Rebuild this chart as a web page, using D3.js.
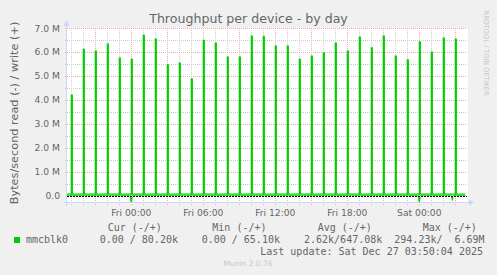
<!DOCTYPE html>
<html>
<head>
<meta charset="utf-8">
<script src="https://cdn.jsdelivr.net/npm/d3@7"></script>
<style>
  body { margin: 0; background: #f0f0f0; }
  text { font-family: "DejaVu Sans", sans-serif; fill: #666666; }
  .mono { font-family: "DejaVu Sans Mono", monospace; font-size: 10px; white-space: pre; }
</style>
</head>
<body>
<svg id="chart"></svg>
<script>
// write peaks (bytes/s), one per hour, first one on Thu 19:00
let firstPeak = "2025-12-25 19:00";
let writePeaks = [
  4.20e6, 6.11e6, 6.04e6, 6.33e6, 5.75e6, 5.69e6, 6.69e6, 6.54e6, 5.46e6, 5.54e6, 4.88e6,
  6.49e6, 6.37e6, 5.79e6, 5.79e6, 6.66e6, 6.65e6, 6.25e6, 6.25e6, 5.69e6, 5.83e6, 5.96e6,
  6.37e6, 6.04e6, 6.62e6, 6.17e6, 6.66e6, 5.83e6, 5.67e6, 6.42e6, 6.00e6, 6.58e6, 6.54e6
];
let writeIdle = 75e3;

// read (drawn negative)
let readTimes = ["2025-12-26 00:00", "2025-12-27 00:00", "2025-12-27 02:45"];
let readValues = [-294230, -260000, -150000];

let periodStart = "2025-12-25 18:38:30";
let periodEnd = "2025-12-27 03:58:30";
let lastUpdate = "2025-12-27 03:50";

let yTicks = [0, 1e6, 2e6, 3e6, 4e6, 5e6, 6e6, 7e6];
let yTickLabels = ["0.0", "1.0 M", "2.0 M", "3.0 M", "4.0 M", "5.0 M", "6.0 M", "7.0 M"];
let yMinorTicks = [0.5e6, 1.5e6, 2.5e6, 3.5e6, 4.5e6, 5.5e6, 6.5e6];

let xTicks = ["2025-12-26 00:00", "2025-12-26 06:00", "2025-12-26 12:00", "2025-12-26 18:00", "2025-12-27 00:00"];
let xTickLabels = ["Fri 00:00", "Fri 06:00", "Fri 12:00", "Fri 18:00", "Sat 00:00"];

let legendName = "mmcblk0";
let legendHeads = ["Cur (-/+)", "Min (-/+)", "Avg (-/+)", "Max (-/+)"];
let legendValues = ["0.00 / 80.20k", "0.00 / 65.10k", "2.62k/647.08k", "294.23k/  6.69M"];

let svgWidth = 497;
let svgHeight = 275;

let plot = { left: 67, top: 28, width: 400, height: 175 };

let green = "#00cc00";
let axisColor = "#cfd6f8";

let parse = d3.timeParse("%Y-%m-%d %H:%M");
let parseS = d3.timeParse("%Y-%m-%d %H:%M:%S");

let x = d3.scaleTime()
  .domain([parseS(periodStart), parseS(periodEnd)])
  .range([plot.left, plot.left + plot.width]);

let y = d3.scaleLinear()
  .domain([-294230, 7e6])
  .range([plot.top + plot.height, plot.top]);

let svg = d3.select("#chart")
  .attr("width", svgWidth)
  .attr("height", svgHeight);

svg.append("rect")
  .attr("width", svgWidth)
  .attr("height", svgHeight)
  .attr("fill", "#f0f0f0");

svg.append("rect")
  .attr("x", plot.left)
  .attr("y", plot.top)
  .attr("width", plot.width + 1)
  .attr("height", plot.height)
  .attr("fill", "#ffffff");

// grid
let grid = svg.append("g").attr("shape-rendering", "crispEdges");
let crisp = v => Math.round(v) + 0.5;

let hours = d3.timeHour.range(x.domain()[0], x.domain()[1]);
grid.selectAll("line.vgrid")
  .data(hours)
  .enter()
  .append("line")
    .attr("x1", d => crisp(x(d)))
    .attr("x2", d => crisp(x(d)))
    .attr("y1", plot.top)
    .attr("y2", plot.top + plot.height + 3)
    .attr("stroke", d => d.getHours() % 3 === 0 ? "#f0a8a8" : "#cccccc")
    .attr("stroke-dasharray", "1,1");

grid.selectAll("line.hminor")
  .data(yMinorTicks)
  .enter()
  .append("line")
    .attr("x1", plot.left - 2)
    .attr("x2", plot.left + plot.width)
    .attr("y1", d => crisp(y(d)))
    .attr("y2", d => crisp(y(d)))
    .attr("stroke", "#cccccc")
    .attr("stroke-dasharray", "1,1");

grid.selectAll("line.hmajor")
  .data(yTicks.filter(d => d !== 0))
  .enter()
  .append("line")
    .attr("x1", plot.left - 2)
    .attr("x2", plot.left + plot.width)
    .attr("y1", d => crisp(y(d)))
    .attr("y2", d => crisp(y(d)))
    .attr("stroke", "#f0a8a8")
    .attr("stroke-dasharray", "1,1");

// write series: idle line with a short burst every hour
let fiveMin = 5 * 60 * 1000;
let writePoints = [[x.domain()[0], writeIdle]];
writePeaks.forEach((p, i) => {
  let t = d3.timeHour.offset(parse(firstPeak), i);
  let t2 = new Date(+t + fiveMin);
  writePoints.push([t, writeIdle], [t, p], [t2, p], [t2, writeIdle]);
});
writePoints.push([parse(lastUpdate), writeIdle]);

// read series
let readPoints = [[x.domain()[0], 0]];
readTimes.forEach((s, i) => {
  let t = parse(s);
  readPoints.push([new Date(+t - fiveMin), 0], [t, readValues[i]], [new Date(+t + fiveMin), 0]);
});
readPoints.push([parse(lastUpdate), 0]);

let line = d3.line()
  .x(d => x(d[0]))
  .y(d => y(d[1]));

svg.append("path")
  .datum(readPoints)
  .attr("d", line)
  .attr("fill", "none")
  .attr("stroke", green)
  .attr("stroke-width", 1.2);

svg.append("path")
  .datum(writePoints)
  .attr("d", line)
  .attr("fill", "none")
  .attr("stroke", green)
  .attr("stroke-width", 1.2);

// zero line
svg.append("line")
  .attr("x1", plot.left)
  .attr("x2", plot.left + plot.width)
  .attr("y1", crisp(y(0)))
  .attr("y2", crisp(y(0)))
  .attr("stroke", "#ffffff")
  .attr("shape-rendering", "crispEdges");

svg.append("line")
  .attr("x1", plot.left)
  .attr("x2", plot.left + plot.width)
  .attr("y1", crisp(y(0)))
  .attr("y2", crisp(y(0)))
  .attr("stroke", "#000000")
  .attr("stroke-dasharray", "2,1")
  .attr("shape-rendering", "crispEdges");

// axes with arrows
let axisY = plot.top + plot.height - 0.5;
svg.append("line")
  .attr("x1", plot.left - 3).attr("x2", plot.left + plot.width + 4)
  .attr("y1", axisY).attr("y2", axisY)
  .attr("stroke", axisColor);
svg.append("line")
  .attr("x1", plot.left - 0.5).attr("x2", plot.left - 0.5)
  .attr("y1", plot.top + plot.height + 3).attr("y2", plot.top - 4)
  .attr("stroke", axisColor);
svg.append("path")
  .attr("d", d3.line()([[plot.left - 3.5, plot.top - 2], [plot.left + 2.5, plot.top - 2], [plot.left - 0.5, plot.top - 8]]))
  .attr("fill", axisColor);
svg.append("path")
  .attr("d", d3.line()([[plot.left + plot.width + 2, axisY - 3], [plot.left + plot.width + 2, axisY + 3], [plot.left + plot.width + 7, axisY]]))
  .attr("fill", axisColor);

// tick labels
svg.selectAll("text.ylab")
  .data(yTicks)
  .enter()
  .append("text")
    .attr("x", 60)
    .attr("y", d => y(d) + 3.5)
    .attr("text-anchor", "end")
    .attr("font-size", "9.2px")
    .text((d, i) => yTickLabels[i]);

svg.selectAll("text.xlab")
  .data(xTicks)
  .enter()
  .append("text")
    .attr("x", d => x(parse(d)))
    .attr("y", 216)
    .attr("text-anchor", "middle")
    .attr("font-size", "9.2px")
    .text((d, i) => xTickLabels[i]);

// titles
svg.append("text")
  .attr("x", 248.5)
  .attr("y", 23)
  .attr("text-anchor", "middle")
  .attr("font-size", "12.6px")
  .text("Throughput per device - by day");

svg.append("text")
  .attr("transform", "translate(17.5, 113) rotate(-90)")
  .attr("text-anchor", "middle")
  .attr("font-size", "11.3px")
  .text("Bytes/second read (-) / write (+)");

svg.append("text")
  .attr("transform", "translate(484, 53) rotate(90)")
  .attr("text-anchor", "middle")
  .attr("font-size", "6.6px")
  .style("fill", "#c4c4c4")
  .text("RRDTOOL / TOBI OETIKER");

// legend
svg.append("rect")
  .attr("x", 14)
  .attr("y", 237)
  .attr("width", 6)
  .attr("height", 6)
  .attr("fill", green);

svg.append("text")
  .attr("class", "mono")
  .attr("x", 26)
  .attr("y", 243)
  .text(legendName);

let headX = [107.7, 212.3, 317.7, 422.7];
let valueX = [99.7, 201.7, 304, 394.3];

svg.selectAll("text.head")
  .data(legendHeads)
  .enter()
  .append("text")
    .attr("class", "mono")
    .attr("x", (d, i) => headX[i])
    .attr("y", 231)
    .text(d => d);

svg.selectAll("text.val")
  .data(legendValues)
  .enter()
  .append("text")
    .attr("class", "mono")
    .attr("x", (d, i) => valueX[i])
    .attr("y", 243)
    .text(d => d);

svg.append("text")
  .attr("class", "mono")
  .attr("x", 483)
  .attr("y", 255)
  .attr("text-anchor", "end")
  .text("Last update: Sat Dec 27 03:50:04 2025");

svg.append("text")
  .attr("x", 248)
  .attr("y", 266)
  .attr("text-anchor", "middle")
  .attr("font-size", "7.5px")
  .style("fill", "#c8c8c8")
  .text("Munin 2.0.76");
</script>
</body>
</html>
